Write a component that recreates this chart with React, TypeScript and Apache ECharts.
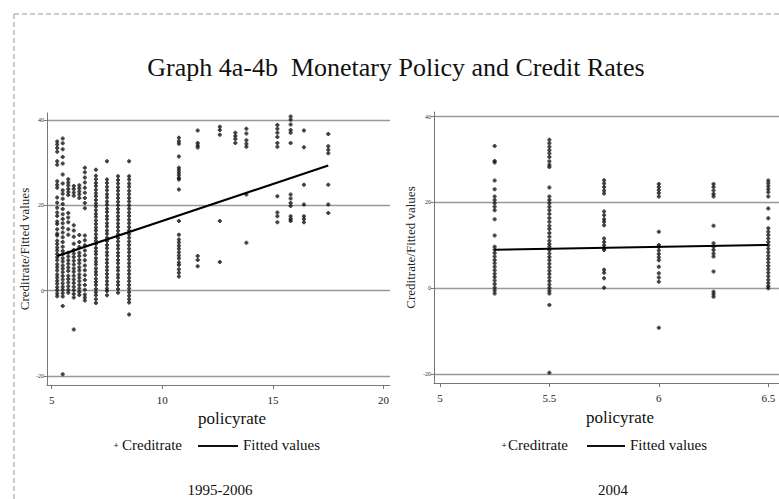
import React, { useEffect, useRef } from "react";
import * as echarts from "echarts";

const titleText = "Graph 4a-4b  Monetary Policy and Credit Rates";
const yTitle = "Creditrate/Fitted values";
const xTitle = "policyrate";
const subtitles = ["1995-2006", "2004"];
const seriesNames = ["Creditrate", "Fitted values"];

const yTicks = [-20, 0, 20, 40];
const leftXTicks = [5, 10, 15, 20];
const rightXTicks = [5, 5.5, 6, 6.5];

// Panel a: 1995-2006
const leftPolicy = [5.25, 5.5, 5.75, 6, 6.25, 6.5, 7, 7.5, 8, 8.5, 10.75, 11.6, 12.6, 13.3, 13.8, 15.2, 15.8, 16.4, 17.5];
const leftCredit = [
  [34.9, 34.2, 33.4, 32.5, 30.3, 29.5, 25.6, 24.8, 24.1, 21.8, 20.6, 19.4, 18.3, 17.5, 16.2, 15.6, 14.4, 13.3, 12.9, 11.7, 10.9, 10.1, 9.4, 8.6, 7.8, 7.1, 6.2, 5.5, 4.7, 3.8, 3.1, 2.3, 1.6, 0.8, 0.1, -0.7, -1.3],
  [35.6, 34.5, 33.1, 31.3, 29.8, 27.2, 25.1, 23.5, 22.7, 21.5, 20.3, 19.1, 17.9, 16.8, 15.8, 14.7, 13.6, 12.5, 11.4, 10.3, 9.3, 8.5, 7.6, 6.8, 5.9, 5.1, 4.3, 3.4, 2.6, 1.7, 0.9, 0.2, -0.6, -1.4, -3.6, -19.6],
  [26.1, 25.3, 24.6, 23.8, 23.1, 22.4, 18.2, 17.1, 16.0, 14.4, 13.1, 8.9, 8.0, 7.1, 6.3, 5.4, 4.6, 3.5, 2.7, 1.9, 1.0, 0.2, -0.5],
  [24.5, 23.8, 23.0, 22.2, 15.3, 14.1, 12.6, 11.0, 9.5, 8.7, 7.9, 7.0, 6.1, 5.2, 4.4, 3.5, 2.6, 1.8, 0.9, 0.1, -0.8, -1.6, -9.1],
  [24.7, 24.0, 23.2, 22.5, 21.7, 13.0, 11.4, 10.2, 8.9, 8.1, 7.2, 6.4, 5.5, 4.7, 3.8, 3.0, 2.2, 1.3, 0.5, -0.3, -1.0],
  [28.8, 27.7, 26.5, 25.3, 24.1, 22.9, 21.7, 20.5, 19.3, 12.9, 11.8, 10.6, 9.4, 8.3, 7.1, 5.9, 4.8, 3.6, 2.5, 1.3, 0.2, -0.9, -1.6, -2.3],
  [28.3, 26.9, 26.1, 25.2, 24.5, 23.6, 22.8, 22.1, 21.2, 20.4, 19.7, 18.8, 18.0, 17.3, 16.4, 15.6, 14.8, 14.1, 13.2, 12.4, 11.7, 10.9, 10.0, 9.2, 8.5, 7.6, 6.8, 6.1, 5.2, 4.4, 3.7, 2.8, 2.0, 1.3, 0.4, -0.4, -1.1, -2.0, -2.9],
  [30.3, 26.0, 25.2, 24.3, 23.5, 22.6, 21.8, 20.9, 20.1, 19.2, 18.4, 17.5, 16.7, 15.8, 15.0, 14.1, 13.3, 12.4, 11.6, 10.7, 9.9, 9.0, 8.2, 7.3, 6.5, 5.6, 4.8, 3.9, 3.1, 2.2, 1.4, 0.5, -0.1, -1.1],
  [26.8, 25.9, 25.1, 24.2, 23.4, 22.5, 21.7, 20.8, 20.0, 19.1, 18.3, 17.4, 16.6, 15.7, 14.9, 14.0, 13.2, 12.3, 11.5, 10.6, 9.8, 8.9, 8.1, 7.2, 6.4, 5.5, 4.7, 3.8, 3.0, 2.1, 1.3, 0.4, -0.5],
  [30.3, 26.8, 26.0, 25.1, 24.3, 23.4, 22.6, 21.7, 20.9, 20.0, 19.2, 18.3, 17.5, 16.6, 15.8, 14.9, 14.1, 13.2, 12.4, 11.5, 10.7, 9.8, 9.0, 8.1, 7.3, 6.4, 5.6, 4.7, 3.9, 3.0, 2.2, 1.3, 0.5, -0.4, -1.2, -2.0, -2.8, -5.6],
  [35.8, 35.0, 34.4, 31.4, 28.8, 28.2, 27.6, 27.0, 26.4, 26.0, 23.7, 16.3, 13.1, 12.0, 11.3, 10.5, 9.8, 9.0, 8.2, 7.5, 6.6, 6.0, 5.0, 4.2, 3.3],
  [37.5, 34.6, 34.0, 33.5, 8.1, 7.2, 5.7],
  [38.4, 37.6, 36.5, 16.3, 6.7],
  [37.0, 36.2, 35.5, 34.6],
  [37.9, 36.8, 35.2, 34.4, 33.7, 22.5, 11.2],
  [38.8, 37.9, 37.0, 36.0, 34.6, 33.7, 22.1, 18.3, 17.4, 16.0],
  [40.8, 40.0, 38.9, 37.6, 37.0, 34.6, 22.5, 21.6, 20.5, 19.8, 17.4, 16.8, 16.3],
  [37.5, 33.6, 24.8, 20.2, 17.4, 16.8, 16.0],
  [36.7, 33.8, 33.0, 32.2, 24.8, 20.2, 18.2],
];
const leftFitX = [5.25, 17.5];
const leftFitY = [8.1, 29.3];

// Panel b: 2004
const rightPolicy = [5.25, 5.5, 5.75, 6, 6.25, 6.5];
const rightCredit = [
  [33.2, 29.7, 29.3, 25.1, 23.1, 21.4, 20.6, 19.8, 19.0, 18.2, 16.1, 12.3, 9.7, 9.0, 8.2, 7.4, 6.6, 5.8, 5.0, 4.2, 3.4, 2.6, 1.8, 1.0, 0.2, -0.5, -1.2],
  [34.6, 33.8, 33.0, 32.2, 31.4, 30.6, 29.6, 28.8, 28.3, 23.5, 21.4, 20.6, 19.8, 19.0, 18.2, 17.3, 16.4, 15.5, 14.6, 13.8, 12.9, 12.0, 11.1, 10.3, 9.7, 8.9, 8.1, 7.3, 6.5, 5.7, 4.9, 4.1, 3.3, 2.5, 1.7, 0.9, 0.1, -0.6, -1.2, -3.9, -19.7],
  [25.2, 24.4, 23.6, 22.8, 22.1, 17.9, 17.0, 16.1, 15.5, 14.7, 11.6, 10.8, 10.0, 9.4, 8.9, 4.3, 3.6, 2.3, 0.1],
  [24.3, 23.6, 22.9, 22.2, 21.4, 13.2, 10.1, 9.6, 8.8, 8.0, 7.2, 6.5, 5.0, 3.5, 2.5, 1.5, -9.2],
  [24.3, 23.6, 22.8, 22.0, 21.4, 14.6, 10.5, 9.7, 8.9, 8.1, 7.4, 3.9, -0.8, -1.4, -2.0],
  [25.1, 24.5, 23.8, 23.1, 22.4, 21.4, 18.6, 16.3, 14.0, 13.2, 12.4, 11.6, 10.8, 10.0, 9.2, 8.4, 7.6, 6.8, 6.0, 5.2, 4.4, 3.6, 2.8, 2.0, 1.2, 0.5, 0.0],
];
const rightFitX = [5.25, 6.5];
const rightFitY = [9.0, 10.1];

const FONT = "'Liberation Serif', 'DejaVu Serif', serif";
const dotSymbol = "path://M1,0H3V1H4V3H3V4H1V3H0V1H1Z";

function toPoints(xs: number[], ys: number[][]) {
  const out: number[][] = [];
  xs.forEach((x, i) => ys[i].forEach((y) => out.push([x, y])));
  return out;
}

function xAxisOf(gridIndex: number, min: number, max: number, ticks: number[]) {
  return {
    type: "value",
    gridIndex,
    min,
    max,
    axisLine: { show: true, onZero: false, lineStyle: { color: "#777", width: 1 } },
    axisTick: { show: true, customValues: ticks, length: 4, lineStyle: { color: "#777" } },
    axisLabel: { customValues: ticks, fontSize: 11, fontFamily: FONT, color: "#222", margin: 9 },
    splitLine: { show: false },
  };
}

function yAxisOf(gridIndex: number, min: number, max: number, gap: number) {
  return {
    type: "value",
    gridIndex,
    min,
    max,
    name: yTitle,
    nameLocation: "middle",
    nameGap: gap,
    nameTextStyle: { fontSize: 13, fontFamily: FONT, color: "#222" },
    axisLine: { show: true, onZero: false, lineStyle: { color: "#777", width: 1 } },
    axisTick: { show: true, customValues: yTicks, length: 3, lineStyle: { color: "#777" } },
    axisLabel: { customValues: yTicks, fontSize: 6, fontFamily: FONT, color: "#333", margin: 3 },
    splitLine: { show: true, lineStyle: { color: "#999", width: 1.4 } },
  };
}

function legendGraphics(plusX: number, textX: number, lineX1: number, lineX2: number, fitX: number, y: number) {
  return [
    { type: "text", x: plusX, y: y, style: { text: "+", font: `bold 9px ${FONT}`, fill: "#111", align: "center", verticalAlign: "middle" } },
    { type: "text", x: textX, y: y, style: { text: seriesNames[0], font: `15px ${FONT}`, fill: "#111", align: "left", verticalAlign: "middle" } },
    { type: "line", shape: { x1: lineX1, y1: y + 1, x2: lineX2, y2: y + 1 }, style: { stroke: "#111", lineWidth: 2 } },
    { type: "text", x: fitX, y: y, style: { text: seriesNames[1], font: `15px ${FONT}`, fill: "#111", align: "left", verticalAlign: "middle" } },
  ];
}

export default function App() {
  const ref = useRef<HTMLDivElement>(null);
  useEffect(() => {
    if (!ref.current) return;
    const chart = echarts.init(ref.current, undefined, { renderer: "svg" });
    const option: any = {
      animation: false,
      backgroundColor: "#ffffff",
      grid: [
        { left: 47, top: 113, width: 343, height: 272, outerBoundsMode: "none", containLabel: false },
        { left: 434, top: 112, width: 345, height: 271, outerBoundsMode: "none", containLabel: false },
      ],
      xAxis: [xAxisOf(0, 4.79, 20.29, leftXTicks), xAxisOf(1, 4.973, 6.549, rightXTicks)],
      yAxis: [yAxisOf(0, -22.1, 41.6, 16), yAxisOf(1, -22.1, 41.1, 17)],
      series: [
        {
          type: "scatter", name: seriesNames[0], xAxisIndex: 0, yAxisIndex: 0,
          data: toPoints(leftPolicy, leftCredit), symbol: dotSymbol, symbolSize: 4,
          itemStyle: { color: "#111" }, silent: true,
        },
        {
          type: "line", name: seriesNames[1], xAxisIndex: 0, yAxisIndex: 0,
          data: leftFitX.map((x, i) => [x, leftFitY[i]]), showSymbol: false,
          lineStyle: { color: "#000", width: 2.2 }, silent: true, z: 3,
        },
        {
          type: "scatter", name: seriesNames[0], xAxisIndex: 1, yAxisIndex: 1,
          data: toPoints(rightPolicy, rightCredit), symbol: dotSymbol, symbolSize: 4,
          itemStyle: { color: "#111" }, silent: true,
        },
        {
          type: "line", name: seriesNames[1], xAxisIndex: 1, yAxisIndex: 1,
          data: rightFitX.map((x, i) => [x, rightFitY[i]]), showSymbol: false,
          lineStyle: { color: "#000", width: 2 }, silent: true, z: 3,
        },
      ],
      graphic: [
        { type: "line", shape: { x1: 14, y1: 14, x2: 779, y2: 14 }, style: { stroke: "#999", lineWidth: 1, lineDash: [5, 3] } },
        { type: "line", shape: { x1: 14, y1: 14, x2: 14, y2: 499 }, style: { stroke: "#999", lineWidth: 1, lineDash: [5, 3] } },
        { type: "text", x: 396, y: 67, style: { text: titleText, font: `26px ${FONT}`, fill: "#111", align: "center", verticalAlign: "middle" } },
        { type: "text", x: 232, y: 418, style: { text: xTitle, font: `17px ${FONT}`, fill: "#111", align: "center", verticalAlign: "middle" } },
        { type: "text", x: 620, y: 417, style: { text: xTitle, font: `17px ${FONT}`, fill: "#111", align: "center", verticalAlign: "middle" } },
        ...legendGraphics(116, 122, 198, 238, 243, 445),
        ...legendGraphics(504, 508, 587, 625, 630, 445),
        { type: "text", x: 220, y: 490, style: { text: subtitles[0], font: `15px ${FONT}`, fill: "#111", align: "center", verticalAlign: "middle" } },
        { type: "text", x: 613, y: 490, style: { text: subtitles[1], font: `15px ${FONT}`, fill: "#111", align: "center", verticalAlign: "middle" } },
      ],
    };
    chart.setOption(option);
    return () => chart.dispose();
  }, []);
  return (
    <div
      ref={ref}
      style={{ position: "absolute", left: 0, top: 0, width: 779, height: 499, background: "#fff" }}
    />
  );
}
